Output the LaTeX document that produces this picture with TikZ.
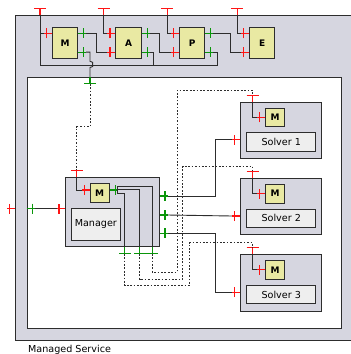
\documentclass[tikz,border=0pt]{standalone}
\usepackage{fontspec}
\setmainfont{DejaVu Sans}
\usetikzlibrary{positioning,calc}
\definecolor{sysgray}{RGB}{214,214,224}
\definecolor{kyellow}{RGB}{233,233,163}
\definecolor{lblgray}{RGB}{238,238,238}
\definecolor{preq}{RGB}{255,20,20}
\definecolor{pprov}{RGB}{10,150,10}
\definecolor{edge}{RGB}{45,45,45}
\begin{document}
\begin{tikzpicture}[x=1pt,y=-1pt,font=\fontsize{9.6}{11}\selectfont,
  sys/.style={rectangle,draw=edge,fill=sysgray,line width=1.1pt,anchor=north west,inner sep=0pt},
  env/.style={rectangle,draw=edge,fill=white,line width=1pt,anchor=north west,inner sep=0pt},
  comp/.style={rectangle,draw=edge,fill=sysgray,line width=1pt,minimum width=81.2pt,minimum height=56.3pt,inner sep=0pt},
  mape/.style={rectangle,draw=edge,fill=kyellow,line width=0.9pt,minimum width=25.4pt,minimum height=31.7pt,inner sep=0pt,font=\fontsize{9}{10}\selectfont\bfseries},
  kn/.style={rectangle,draw=edge,fill=kyellow,line width=0.9pt,minimum size=18.8pt,inner sep=0pt,font=\fontsize{9}{10}\selectfont\bfseries},
  lbl/.style={rectangle,draw=edge,fill=lblgray,line width=1pt,inner sep=0pt},
  ln/.style={draw=edge,line width=0.9pt},
  dl/.style={draw=edge,line width=1pt,dash pattern=on 1.7pt off 1.7pt},
  pics/pin/.style={code={\draw[draw=#1,line width=1.1pt] (0,0)--(8,0) (5.5,-5)--(5.5,5);
    \coordinate (-in) at (0,0); \coordinate (-tip) at (8,0);}},
  pics/tee/.style={code={\draw[draw=#1,line width=1.1pt] (0,0)--(6.6,0) (6.6,-6)--(6.6,6);
    \coordinate (-in) at (0,0); \coordinate (-tip) at (6.6,0);}}]
\useasboundingbox (0,0) rectangle (351,354);
\clip (0,0) rectangle (351,354);
\node[sys,minimum width=342pt,minimum height=324.8pt] (ms) at (15,14.7) {};
\node[env,minimum width=314pt,minimum height=250.4pt] (res) at (26.7,77.3) {};
\node[anchor=base west,inner sep=0pt] (msl) at (28,352.7) {Managed Service};
\node[mape] (mon) at (65,42.85) {M};
\node[mape,right=37.3pt of mon] (ana) {A};
\node[mape,right=37.3pt of ana] (pla) {P};
\node[mape,right=43.7pt of pla] (exe) {E};
\node[comp,minimum width=94pt,minimum height=69.4pt] (mgr) at (112,212) {};
\node[kn] (mk) at (99.7,193) {M};
\node[lbl,minimum width=49.7pt,minimum height=31.7pt] (mlb) at (95.85,224.15) {Manager};
\node[comp] (s1) at (281.1,130.5) {};
\node[comp,below=18.9pt of s1] (s2) {};
\node[comp,below=18.9pt of s2] (s3) {};
\foreach \k in {1,2,3}{
  \node[kn] (k\k) at ($(s\k.north)+(-6.1,15.5)$) {M};
  \node[lbl,minimum width=69pt,minimum height=18.7pt] (l\k) at ($(s\k.north)+(0.1,40.3)$) {Solver \k};
  \pic[rotate=90] (st\k) at ($(s\k.north)+(-28.4,0)$) {tee=preq};
  \pic[rotate=180] (sp\k) at ($(s\k.west)+(0,9.3)$) {pin=preq};
  \pic[rotate=180] (skp\k) at (k\k.west) {pin=preq};
  \draw[ln] (st\k-in) |- (skp\k-tip);
}
\foreach \bx/\nm in {mon/tm,ana/ta,pla/tp,exe/te}
  \pic[rotate=90] (\nm) at ($(\bx.center |- ms.north)+(-25,0)$) {tee=preq};
\pic[rotate=180] (mi1) at ($(mon.west)+(0,-9.5)$) {pin=preq};
\foreach \bx/\nm in {ana/ai,pla/pi,exe/ei}{
  \pic[rotate=180] (\nm1) at ($(\bx.west)+(0,-9.5)$) {pin=preq};
  \pic[rotate=180] (\nm2) at ($(\bx.west)+(0,9.2)$) {pin=preq};
}
\foreach \bx/\nm in {mon/mo,ana/ao,pla/po}{
  \pic (\nm1) at ($(\bx.east)+(0,-9.5)$) {pin=pprov};
  \pic (\nm2) at ($(\bx.east)+(0,9.2)$) {pin=pprov};
}
\pic[rotate=-90] (kp) at ($(res.north west)+(63.3,0)$) {tee=pprov};
\coordinate (bus) at ($(tm-in)+(0,50.3)$);
\draw[ln] (tm-in) |- (mi1-tip);
\draw[ln] (tm-in) -- (bus) -| ($(po2-tip)+(4.3,0)$) -- (po2-tip);
\draw[ln] (ao2-tip) -- ++(4,0) |- (bus);
\draw[ln] (ta-in) |- (ai1-tip);
\draw[ln] (tp-in) |- (pi1-tip);
\draw[ln] (te-in) |- (ei1-tip);
\draw[ln] (mo1-tip) -- ++(10.7,0) |- (ai2-tip);
\draw[ln] (ao1-tip) -- ++(9.8,0) |- (pi2-tip);
\draw[ln] (po1-tip) -- ++(17.3,0) |- (ei2-tip);
\draw[ln] (mo2-tip) -| ($(kp-in)+(0,-16)$) -- ++(2.6,1) -- ++(0,4.2) -- ++(-2.6,1) -- (kp-in);
\pic[rotate=90] (mt) at ($(mgr.north west)+(12.3,0)$) {tee=preq};
\pic[rotate=180] (mkl) at ($(mk.west)+(0,-3)$) {pin=preq};
\pic (mkr) at ($(mk.east)+(0,-3)$) {pin=pprov};
\pic[rotate=180] (ml) at ($(mgr.west)+(0,-3.3)$) {pin=preq};
\pic[rotate=180] (msp) at (ms.west |- ml-in) {pin=preq};
\pic (rp) at (res.west |- ml-in) {pin=pprov};
\foreach \n/\dx in {1/60,2/75,3/87.7}
  \pic[rotate=-90] (mb\n) at ($(mgr.south west)+(\dx,0)$) {tee=pprov};
\foreach \n/\dy in {1/-16,2/3,3/21.3}
  \pic (mr\n) at ($(mgr.east)+(0,\dy)$) {pin=pprov};
\draw[dl] (kp-tip) -- ++(0,42.8) -| (mt-tip);
\draw[ln] (rp-tip) -- (ml-tip);
\draw[ln] (mt-in) |- (mkl-tip);
\draw[ln] (mkr-tip) -- ++(0,-4) -| (mb3-in);
\draw[ln] (mkr-tip) -- ++(0,-0.7) -| (mb2-in);
\draw[ln] (mkr-tip) -- ++(0,3.3) -| (mb1-in);
\draw[ln] (mr1-tip) -- ++(47.5,0) |- (sp1-tip);
\draw[ln] (mr2-tip) -- (sp2-tip);
\draw[ln] (mr3-tip) -- ++(47.5,0) |- (sp3-tip);
\draw[dl] (mb3-tip) |- ++(25,18.4) |- ($(st1-tip)+(0,-5)$) -- (st1-tip);
\draw[dl] (mb2-tip) |- ++(43.3,25.4) |- ($(st2-tip)+(0,-5)$) -- (st2-tip);
\draw[dl] (mb1-tip) |- ++(65,31.7) |- ($(st3-tip)+(0,-5)$) -- (st3-tip);
\end{tikzpicture}
\end{document}
